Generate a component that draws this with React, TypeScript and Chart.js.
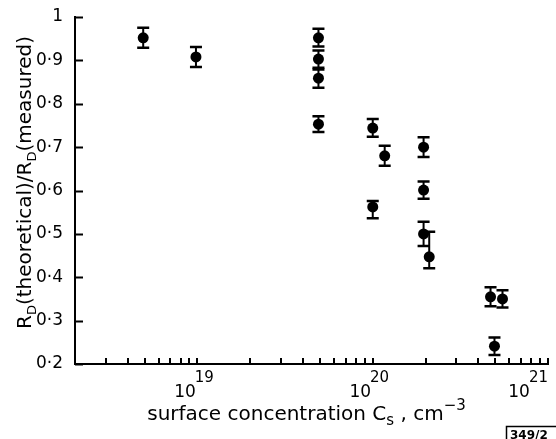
import React, { useEffect, useRef } from "react";
import { Chart, registerables } from "chart.js";

Chart.register(...registerables);

// ---- data ----
const concentration = [
  4.9e18, 9.8e18, 4.9e19, 4.9e19, 4.9e19, 4.9e19, 1.0e20, 1.0e20,
  1.17e20, 1.95e20, 1.95e20, 1.95e20, 2.1e20, 4.7e20, 5.5e20, 4.95e20,
];
const ratio = [
  0.952, 0.908, 0.952, 0.903, 0.859, 0.753, 0.744, 0.562,
  0.68, 0.70, 0.601, 0.50, 0.447, 0.355, 0.35, 0.241,
];
const errUp = [
  0.023, 0.023, 0.021, 0.02, 0.02, 0.018, 0.021, 0.014,
  0.023, 0.023, 0.02, 0.028, 0.058, 0.022, 0.02, 0.02,
];
const errDown = [
  0.023, 0.023, 0.02, 0.02, 0.022, 0.018, 0.02, 0.026,
  0.023, 0.023, 0.02, 0.028, 0.026, 0.022, 0.02, 0.02,
];
const yTicks = [0.2, 0.3, 0.4, 0.5, 0.6, 0.7, 0.8, 0.9, 1.0];
const xDecades = [19, 20, 21];
const xMinorMantissas = [2, 3, 4, 5, 6, 7, 8, 9];
const xMin = 2e18;
const xMax = 1e21;

const FONT = "'DejaVu Sans', sans-serif";

type Seg = { t: string; size: number; dy: number };

function drawSegs(ctx: CanvasRenderingContext2D, segs: Seg[], cx: number, baseY: number) {
  let total = 0;
  for (const s of segs) {
    ctx.font = `${s.size}px ${FONT}`;
    total += ctx.measureText(s.t).width;
  }
  let x = cx - total / 2;
  ctx.textAlign = "left";
  ctx.textBaseline = "alphabetic";
  for (const s of segs) {
    ctx.font = `${s.size}px ${FONT}`;
    ctx.fillText(s.t, x, baseY + s.dy);
    x += ctx.measureText(s.t).width;
  }
}

const decorPlugin = {
  id: "decor",
  beforeDatasetsDraw(chart: any) {
    const ctx: CanvasRenderingContext2D = chart.ctx;
    const xs = chart.scales.x;
    const ys = chart.scales.y;
    ctx.save();
    ctx.strokeStyle = "#000";
    for (let i = 0; i < concentration.length; i++) {
      const px = xs.getPixelForValue(concentration[i]);
      const top = ys.getPixelForValue(ratio[i] + errUp[i]);
      const bot = ys.getPixelForValue(ratio[i] - errDown[i]);
      ctx.lineWidth = 2;
      ctx.beginPath();
      ctx.moveTo(px, top);
      ctx.lineTo(px, bot);
      ctx.stroke();
      ctx.lineWidth = 2.5;
      ctx.beginPath();
      ctx.moveTo(px - 6, top);
      ctx.lineTo(px + 6, top);
      ctx.moveTo(px - 6, bot);
      ctx.lineTo(px + 6, bot);
      ctx.stroke();
    }
    ctx.restore();
  },
  afterDraw(chart: any) {
    const ctx: CanvasRenderingContext2D = chart.ctx;
    const xs = chart.scales.x;
    const ys = chart.scales.y;
    const a = chart.chartArea;
    ctx.save();
    ctx.strokeStyle = "#000";
    ctx.fillStyle = "#000";
    ctx.lineWidth = 2;
    // y ticks inward
    ctx.beginPath();
    for (const v of yTicks) {
      const py = Math.round(ys.getPixelForValue(v)) + 0.5;
      ctx.moveTo(a.left, py);
      ctx.lineTo(a.left + 8, py);
    }
    ctx.stroke();
    // x ticks inward
    ctx.beginPath();
    for (let d = 18; d <= 21; d++) {
      for (const m of [1, ...xMinorMantissas]) {
        const v = m * Math.pow(10, d);
        if (v <= xMin * 1.001 || v > xMax * 1.001) continue;
        const px = Math.round(xs.getPixelForValue(v));
        ctx.moveTo(px, a.bottom);
        ctx.lineTo(px, a.bottom - 6);
      }
    }
    ctx.stroke();
    // x tick labels 10^n
    for (const d of xDecades) {
      const px = xs.getPixelForValue(Math.pow(10, d));
      ctx.font = `17px ${FONT}`;
      const w1 = ctx.measureText("10").width;
      ctx.font = `15px ${FONT}`;
      const w2 = ctx.measureText(String(d)).width;
      let left = px - 3 - (w1 + w2) / 2;
      if (left + w1 + w2 > 549) left = 549 - w1 - w2;
      ctx.textAlign = "left";
      ctx.textBaseline = "alphabetic";
      ctx.font = `17px ${FONT}`;
      ctx.fillText("10", left, 397);
      ctx.font = `15px ${FONT}`;
      ctx.fillText(String(d), left + w1 - 1, 382);
    }
    // x title
    drawSegs(
      ctx,
      [
        { t: "surface concentration C", size: 20, dy: 0 },
        { t: "s", size: 15, dy: 5 },
        { t: " , cm", size: 20, dy: 0 },
        { t: "\u22123", size: 15, dy: -10 },
      ],
      (a.left + a.right) / 2 - 5,
      420
    );
    // y title (rotated)
    ctx.save();
    ctx.translate(31, (a.top + a.bottom) / 2 - 8);
    ctx.rotate(-Math.PI / 2);
    drawSegs(
      ctx,
      [
        { t: "R", size: 20, dy: 0 },
        { t: "D", size: 13, dy: 5 },
        { t: "(theoretical)/R", size: 20, dy: 0 },
        { t: "D", size: 13, dy: 5 },
        { t: "(measured)", size: 20, dy: 0 },
      ],
      0,
      0
    );
    ctx.restore();
    // figure id box
    ctx.lineWidth = 1.5;
    ctx.strokeRect(506.5, 426.5, 60, 20);
    ctx.font = `bold 12px ${FONT}`;
    ctx.textAlign = "left";
    ctx.textBaseline = "alphabetic";
    ctx.fillText("349/2", 510, 439);
    ctx.restore();
  },
};

export default function App() {
  const ref = useRef<HTMLCanvasElement | null>(null);
  useEffect(() => {
    if (!ref.current) return;
    const chart = new Chart(ref.current, {
      type: "scatter",
      data: {
        datasets: [
          {
            data: concentration.map((c, i) => ({ x: c, y: ratio[i] })),
            backgroundColor: "#000",
            borderWidth: 0,
            pointRadius: 5.5,
            showLine: false,
          },
        ],
      },
      options: {
        animation: false,
        responsive: true,
        maintainAspectRatio: false,
        layout: { padding: { left: 0, top: 17, right: 8, bottom: 0 } },
        plugins: { legend: { display: false }, tooltip: { enabled: false } },
        scales: {
          x: {
            type: "logarithmic",
            min: xMin,
            max: xMax,
            grid: { display: false },
            border: { display: true, width: 2, color: "#000" },
            ticks: { display: false },
            afterFit: (s: any) => {
              s.height = 75;
            },
          },
          y: {
            type: "linear",
            min: 0.2,
            max: 1.0,
            grid: { display: false },
            border: { display: true, width: 2, color: "#000" },
            afterBuildTicks: (s: any) => {
              s.ticks = yTicks.map((v) => ({ value: v }));
            },
            ticks: {
              color: "#000",
              padding: 4,
              font: { family: FONT, size: 17 },
              callback: (v: any) => {
                const r = Math.round(Number(v) * 10) / 10;
                return r === 1 ? "1" : r.toFixed(1).replace(".", "\u00b7");
              },
            },
            afterFit: (s: any) => {
              s.width = 75;
            },
          },
        },
      },
      plugins: [decorPlugin],
    } as any);
    return () => chart.destroy();
  }, []);
  return (
    <div style={{ position: "absolute", left: 0, top: 0, width: 556, height: 439, background: "#fff" }}>
      <canvas ref={ref} />
    </div>
  );
}
